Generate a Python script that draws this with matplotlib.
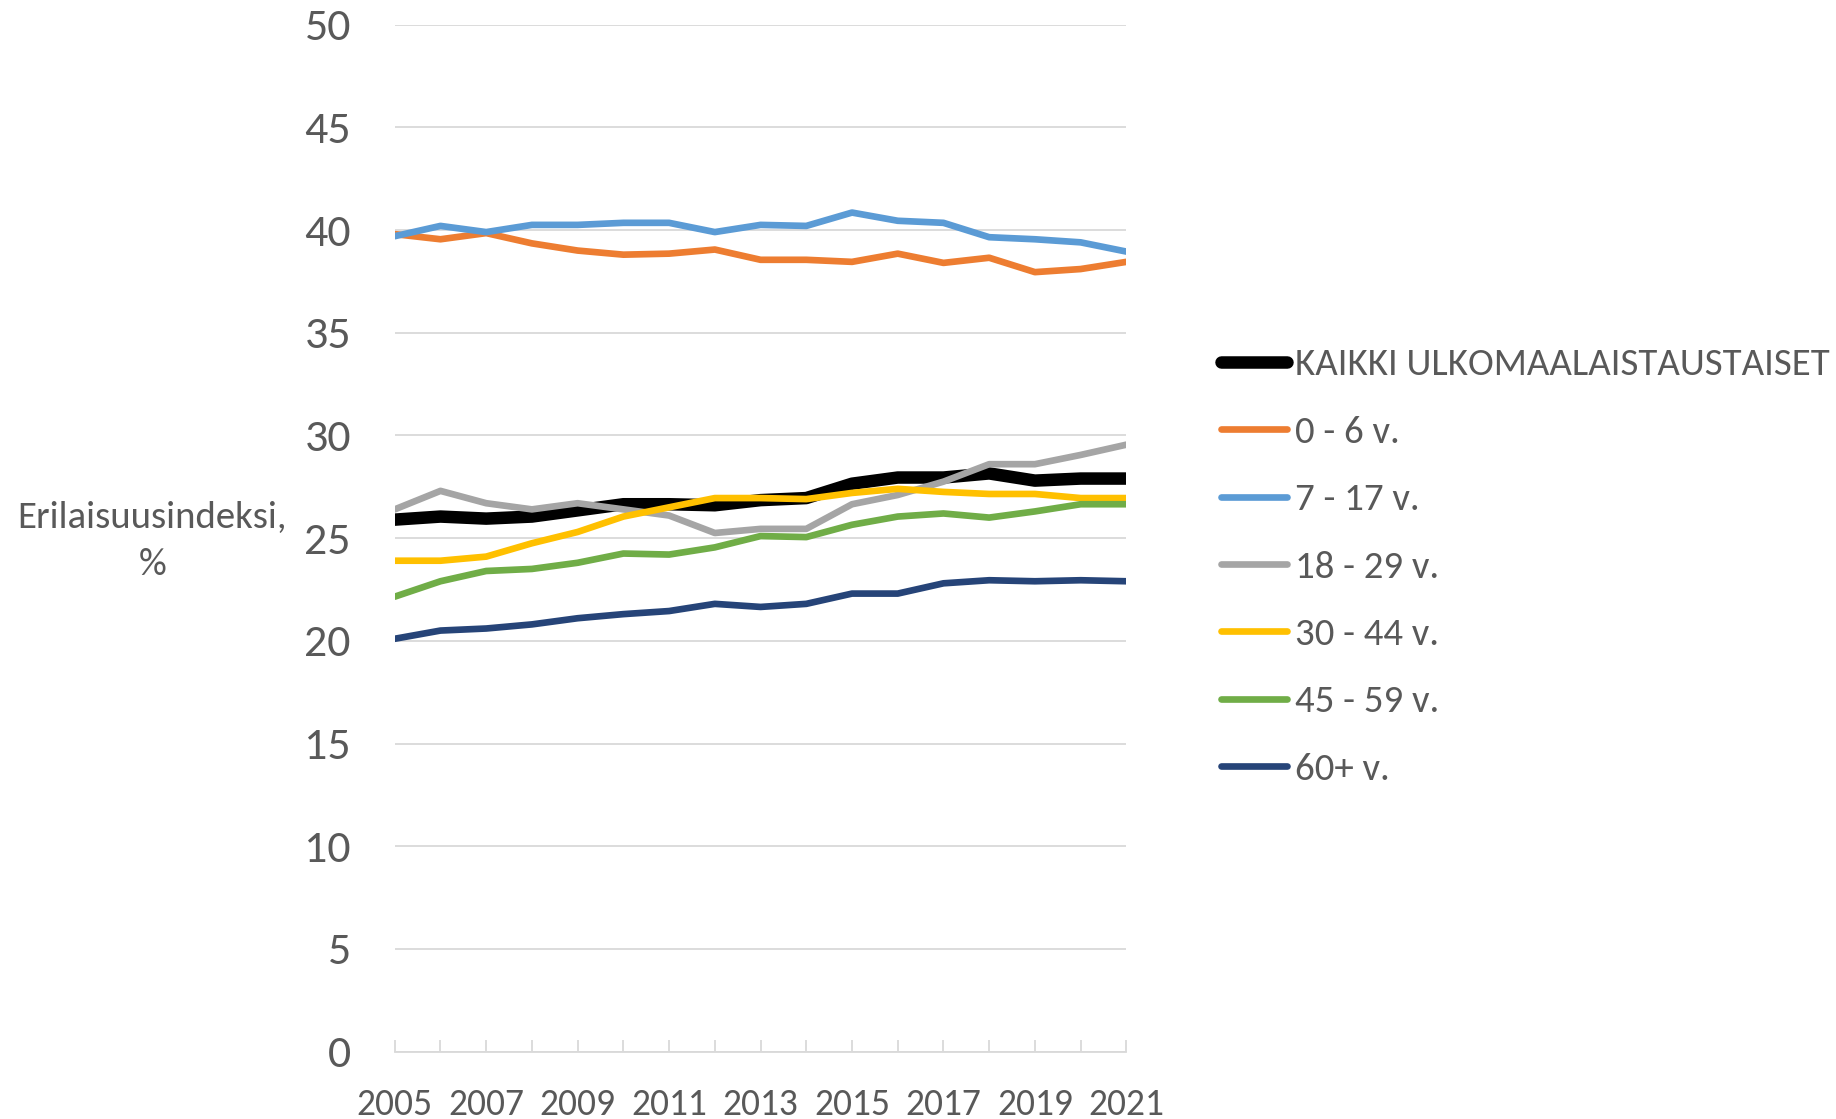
import matplotlib
matplotlib.use('Agg')
import matplotlib.pyplot as plt
from matplotlib import font_manager
import numpy as np

# %% data
years = np.arange(2005, 2022)
kaikki = [25.9, 26.05, 25.95, 26.05, 26.35, 26.65, 26.65, 26.6, 26.85, 26.95, 27.65, 27.95, 27.95, 28.15, 27.8, 27.9, 27.9]
v0_6 = [39.8, 39.55, 39.85, 39.35, 39.0, 38.8, 38.85, 39.05, 38.55, 38.55, 38.45, 38.85, 38.4, 38.65, 37.95, 38.1, 38.45]
v7_17 = [39.7, 40.2, 39.9, 40.25, 40.25, 40.35, 40.35, 39.9, 40.25, 40.2, 40.85, 40.45, 40.35, 39.65, 39.55, 39.4, 38.95]
v18_29 = [26.4, 27.3, 26.7, 26.4, 26.7, 26.4, 26.1, 25.25, 25.45, 25.45, 26.65, 27.1, 27.75, 28.6, 28.6, 29.05, 29.55]
v30_44 = [23.9, 23.9, 24.1, 24.75, 25.3, 26.05, 26.5, 26.95, 26.95, 26.9, 27.2, 27.4, 27.25, 27.15, 27.15, 26.95, 26.95]
v45_59 = [22.15, 22.9, 23.4, 23.5, 23.8, 24.25, 24.2, 24.55, 25.1, 25.05, 25.65, 26.05, 26.2, 26.0, 26.3, 26.65, 26.65]
v60 = [20.1, 20.5, 20.6, 20.8, 21.1, 21.3, 21.45, 21.8, 21.65, 21.8, 22.3, 22.3, 22.8, 22.95, 22.9, 22.95, 22.9]

labels = ['KAIKKI ULKOMAALAISTAUSTAISET', '0 - 6 v.', '7 - 17 v.', '18 - 29 v.',
          '30 - 44 v.', '45 - 59 v.', '60+ v.']
colors = ['#000000', '#ED7D31', '#5B9BD5', '#A5A5A5', '#FFC000', '#70AD47', '#264478']

# %% font: Calibri look-alike if there is one
names = {f.name for f in font_manager.fontManager.ttflist}
if 'Carlito' in names:
    font = 'Carlito'
    ytick_fs, xtick_fs, leg_fs, lab_fs = 33, 27, 28, 28
else:
    font = 'Lato'
    ytick_fs, xtick_fs, leg_fs, lab_fs = 31, 25, 25.5, 26.5
plt.rcParams['font.family'] = [font, 'DejaVu Sans']
txt_color = '#595959'

fig = plt.figure(figsize=(18.36, 11.19), dpi=100)
ax = fig.add_axes([0.215, 0.0602, 0.3985, 0.9178])

series = [kaikki, v0_6, v7_17, v18_29, v30_44, v45_59, v60]
for vals, lab, col in zip(series, labels, colors):
    lw = 9 if lab.startswith('KAIKKI') else 4.8
    ax.plot(years, vals, color=col, lw=lw, label=lab,
            solid_capstyle='round', solid_joinstyle='round')

ax.set_xlim(2005, 2021)
ax.set_ylim(0, 50)
ax.set_yticks(np.arange(0, 51, 5))
ax.set_xticks(years)
ax.set_xticklabels([str(y) if y % 2 == 1 else '' for y in years])
ax.grid(axis='y', color='#D9D9D9', lw=1.3)
ax.set_axisbelow(True)
for s in ['top', 'right', 'left']:
    ax.spines[s].set_visible(False)
ax.spines['bottom'].set_color('#D9D9D9')
ax.spines['bottom'].set_linewidth(1.3)
ax.tick_params(axis='y', length=0, pad=31.5, labelsize=ytick_fs, labelcolor=txt_color)
ax.tick_params(axis='x', direction='in', length=8.4, width=1.3, color='#D9D9D9',
               pad=26.5, labelsize=xtick_fs, labelcolor=txt_color)

fig.text(0.083, 0.5165, 'Erilaisuusindeksi,\n%', ha='center', va='center',
         fontsize=lab_fs, color=txt_color, linespacing=1.55)

leg = fig.legend(loc='upper left', bbox_to_anchor=(0.665, 0.689), frameon=False,
                 fontsize=leg_fs, handlelength=1.7, handletextpad=0.2,
                 labelspacing=0.88, borderaxespad=0, borderpad=0)
for t in leg.get_texts():
    t.set_color(txt_color)

plt.savefig('out.png', dpi=100)
